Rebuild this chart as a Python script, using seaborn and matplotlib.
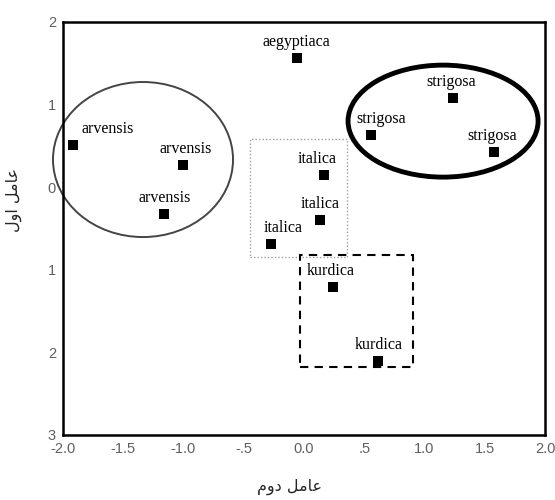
import matplotlib

matplotlib.use("Agg")
import matplotlib.pyplot as plt
import pandas as pd
import seaborn as sns
from matplotlib.patches import Ellipse, Rectangle

# factor scores
species = ["arvensis", "arvensis", "arvensis", "aegyptiaca",
           "strigosa", "strigosa", "strigosa",
           "italica", "italica", "italica", "kurdica", "kurdica"]
factor2 = [-1.92, -1.00, -1.16, -0.06, 1.24, 0.56, 1.58, 0.17, 0.13, -0.27, 0.24, 0.61]
factor1 = [0.51, 0.27, -0.32, 1.56, 1.08, 0.63, 0.43, 0.15, -0.40, -0.69, -1.21, -2.10]

x_ticks = [-2.0, -1.5, -1.0, -0.5, 0.0, 0.5, 1.0, 1.5, 2.0]
x_tick_labels = ["-2.0", "-1.5", "-1.0", "-.5", "0.0", ".5", "1.0", "1.5", "2.0"]
y_ticks = [-3, -2, -1, 0, 1, 2]
y_tick_labels = ["3", "2", "1", "0", "1", "2"]

# axis titles, pre-shaped (Arabic presentation forms, visual order)
x_title = "\uFEE1\uFEED\uFEA9 \uFEDE\uFEE3\uFE8E\uFECB"   # عامل دوم
y_title = "\uFEDD\uFEED\uFE8D \uFEDE\uFEE3\uFE8E\uFECB"   # عامل اول

df = pd.DataFrame({"species": species, "f2": factor2, "f1": factor1})

sns.set_style("white")
plt.rcParams["font.family"] = ["Liberation Sans", "DejaVu Sans"]

fig = plt.figure(figsize=(5.55, 5.0), dpi=100)
ax = fig.add_axes([0.1135, 0.13, 0.8685, 0.826])

sns.scatterplot(data=df, x="f2", y="f1", marker="s", s=45, color="black",
                edgecolor="black", linewidth=0, ax=ax, zorder=3)

# horizontal nudges of the labels (pixels), the labels sit above each point
label_dx = [35, 2, 0, 0, -2, 10, -2, -7, 1, 12, -2, 1]
for (_, row), dx in zip(df.iterrows(), label_dx):
    ax.annotate(row["species"], (row["f2"], row["f1"]), xytext=(dx, 16),
                textcoords="offset pixels", ha="center", va="center",
                fontsize=11.5, family="Liberation Serif", color="black")

# group outlines
ax.add_patch(Ellipse((-1.336, 0.335), 1.494, 1.877, fill=False,
                     edgecolor="#444444", linewidth=1.4, clip_on=False))
ax.add_patch(Ellipse((1.154, 0.80), 1.577, 1.356, fill=False,
                     edgecolor="black", linewidth=3.5))
ax.add_patch(Rectangle((-0.448, -0.845), 0.805, 1.429, fill=False,
                       edgecolor="#a0a0a0", linewidth=1.0, linestyle=(0, (1, 1.5))))
ax.add_patch(Rectangle((-0.033, -2.177), 0.938, 1.356, fill=False,
                       edgecolor="black", linewidth=1.5, linestyle=(0, (4, 3))))

ax.set_xlim(-2.0, 2.0)
ax.set_ylim(-3.0, 2.0)
ax.set_xticks(x_ticks)
ax.set_xticklabels(x_tick_labels)
ax.set_yticks(y_ticks)
ax.set_yticklabels(y_tick_labels)
ax.tick_params(axis="both", which="major", length=3, width=1.5, color="black",
               labelsize=10.5, labelcolor="#606060", direction="out", pad=2)

for side in ["left", "bottom", "top", "right"]:
    ax.spines[side].set_visible(True)
    ax.spines[side].set_color("black")
    ax.spines[side].set_linewidth(1.8)

ax.set_xlabel(x_title, family="DejaVu Sans", fontsize=11.5, labelpad=14)
ax.set_ylabel(y_title, family="DejaVu Sans", fontsize=11.5, rotation=90)
ax.yaxis.set_label_coords(-0.085, 0.57)
ax.xaxis.set_label_coords(0.47, -0.105)

fig.savefig("out.png", dpi=100)
